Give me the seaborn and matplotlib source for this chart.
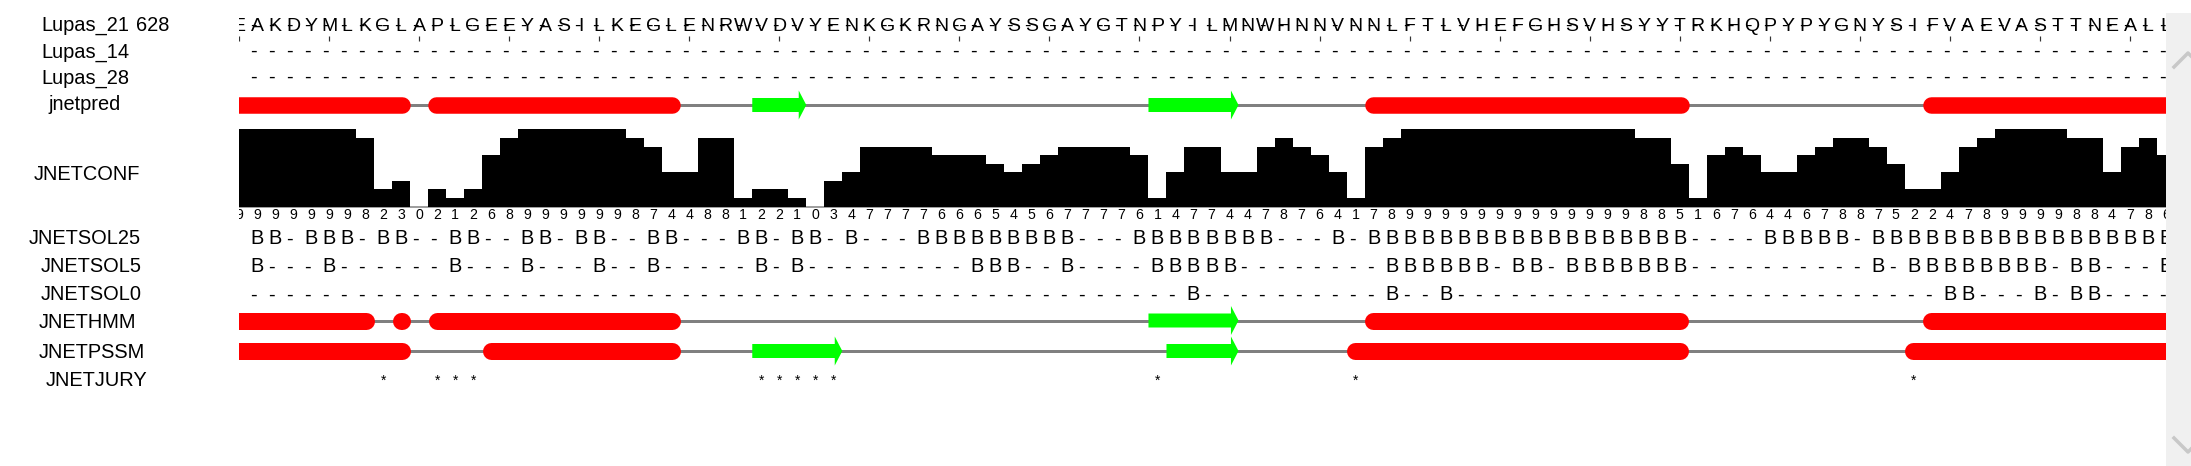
import itertools

import matplotlib
matplotlib.use("Agg")
import matplotlib.pyplot as plt
from matplotlib.lines import Line2D
from matplotlib.patches import Rectangle
import pandas as pd
import seaborn as sns

# ---- values ----
sequence = "EAKDYMLKGLAPLGEEYASILKEGLENRWVDVYENKGKRNGAYSSGAYGTNPYILMNWHNNVNNLFTLVHEFGHSVHSYYTRKHQPYPYGNYSIFVAEVASTTNEALL"
start_residue = "628"

jnetconf = [9, 9, 9, 9, 9, 9, 9, 8, 2, 3,
            0, 2, 1, 2, 6, 8, 9, 9, 9, 9,
            9, 9, 8, 7, 4, 4, 8, 8, 1, 2,
            2, 1, 0, 3, 4, 7, 7, 7, 7, 6,
            6, 6, 5, 4, 5, 6, 7, 7, 7, 7,
            6, 1, 4, 7, 7, 4, 4, 7, 8, 7,
            6, 4, 1, 7, 8, 9, 9, 9, 9, 9,
            9, 9, 9, 9, 9, 9, 9, 9, 8, 8,
            5, 1, 6, 7, 6, 4, 4, 6, 7, 8,
            8, 7, 5, 2, 2, 4, 7, 8, 9, 9,
            9, 9, 8, 8, 4, 7, 8, 6]

jnetsol25 = ("-BB-BBB-BB" "--BB--BB-B" "B--BB---BB" "-BB-B---BB" "BBBBBBB---"
             "BBBBBBBB--" "-B-BBBBBBB" "BBBBBBBBBB" "B----BBBBB" "-BBBBBBBBB" "BBBBBBBB")
jnetsol5 = ("-B---B----" "--B---B---" "B--B-----B" "-B--------" "-BBB--B---"
            "-BBBBB----" "----BBBBBB" "-BB-BBBBBB" "B---------" "-B-BBBBBBB" "B-BB---B")
jnetsol0 = ("----------" "----------" "----------" "----------" "----------"
            "---B------" "----B--B--" "----------" "----------" "-----BB---" "B-BB----")

# H = helix, E = strand, - = coil
jnetpred = ("HHHHHHHHHH" "-HHHHHHHHH" "HHHHH----E" "EE--------" "----------"
            "-EEEEE----" "---HHHHHHH" "HHHHHHHHHH" "H---------" "----HHHHHH" "HHHHHHHH")
jnethmm = ("HHHHHHHH-H" "-HHHHHHHHH" "HHHHH-----" "----------" "----------"
           "-EEEEE----" "---HHHHHHH" "HHHHHHHHHH" "H---------" "----HHHHHH" "HHHHHHHH")
jnetpssm = ("HHHHHHHHHH" "----HHHHHH" "HHHHH----E" "EEEE------" "----------"
            "--EEEE----" "--HHHHHHHH" "HHHHHHHHHH" "H---------" "---HHHHHHH" "HHHHHHHH")

jury_cols = [8, 11, 12, 13, 29, 30, 31, 32, 33, 51, 62, 93]

row_labels = ["Lupas_21", "Lupas_14", "Lupas_28", "jnetpred", "JNETCONF",
              "JNETSOL25", "JNETSOL5", "JNETSOL0", "JNETHMM", "JNETPSSM", "JNETJURY"]

# ---- layout, in pixels of the 2191x466 panel ----
W, H = 2191, 466
X_FIRST, X_LAST = 239, 2166          # centres of first / last visible column
label_pos = {"Lupas_21": (41, 31), "Lupas_14": (41, 57.5), "Lupas_28": (41, 84),
             "jnetpred": (48, 110.5), "JNETCONF": (34, 180), "JNETSOL25": (29, 244.5),
             "JNETSOL5": (41, 272.5), "JNETSOL0": (41, 300.5), "JNETHMM": (39, 327.5),
             "JNETPSSM": (39, 358), "JNETJURY": (46, 385.5)}
row_y = dict(seq=31, tick_top=35.5, tick_bot=41, lupas14=56.5, lupas28=83,
             pred=105, conf_top=129.5, conf_base=206.6, digits=218.7,
             sol25=244.5, sol5=272.5, sol0=300.5, hmm=320.5, pssm=351, jury=385)

RED, GREEN, GREY = "#ff0000", "#00ff00", "#808080"
PX = 0.72  # points per pixel at dpi 100

plt.rcParams['font.family'] = ['Liberation Sans', 'DejaVu Sans']

n = len(sequence)
cols = list(range(n))
px_per_col = (X_LAST - X_FIRST) / (n - 1)

fig = plt.figure(figsize=(W / 100, H / 100), dpi=100)
fig.patch.set_facecolor("white")

ax = fig.add_axes([X_FIRST / W, 0, (X_LAST - X_FIRST) / W, 1])
ax.set_xlim(0, n - 1)
ax.set_ylim(H, 0)
ax.axis("off")


def char_row(text, y, size=14.4, dash_shift=-0.2):
    for i, ch in enumerate(text):
        x = i + (dash_shift if ch == "-" else 0)
        ax.text(x, y, ch, ha="center", va="baseline", fontsize=size, clip_on=True)


def ss_row(ss, y, bar_px=16.5):
    ax.plot([-1, n], [y, y], color=GREY, lw=3 * PX, solid_capstyle="butt", zorder=1)
    r = bar_px / 2 / px_per_col
    head = 0.42
    i = 0
    for kind, grp in itertools.groupby(ss):
        k = len(list(grp))
        s, e = i - 0.5, i + k - 0.5
        if kind == "H":
            ax.plot([s + r, e - r], [y, y], color=RED, lw=bar_px * PX,
                    solid_capstyle="round", zorder=2)
        elif kind == "E":
            xb = e - head
            ax.fill([s, xb, xb, e, xb, xb, s],
                    [y - 7, y - 7, y - 14.5, y, y + 14.5, y + 7, y + 7],
                    color=GREEN, lw=0, zorder=2)
        i += k


# sequence row with the overlaid Lupas dashes and ruler ticks
char_row(sequence, row_y["seq"], size=14)
char_row("-" * n, row_y["seq"], size=14)
ax.vlines(cols[::5], row_y["tick_top"], row_y["tick_bot"], color="#333333", lw=1.2 * PX)

char_row("-" * n, row_y["lupas14"])
char_row("-" * n, row_y["lupas28"])

ss_row(jnetpred, row_y["pred"])

# confidence histogram
cax = fig.add_axes([X_FIRST / W, 1 - row_y["conf_base"] / H, (X_LAST - X_FIRST) / W,
                    (row_y["conf_base"] - row_y["conf_top"]) / H])
conf_df = pd.DataFrame({"col": cols, "conf": jnetconf})
sns.barplot(data=conf_df, x="col", y="conf", native_scale=True, width=1, color="black",
            saturation=1, errorbar=None, linewidth=0, antialiased=False, ax=cax)
cax.set_xlim(0, n - 1)
cax.set_ylim(0, 9)
cax.axis("off")
ax.plot([0, n - 1], [row_y["conf_base"] + 0.8] * 2, color=GREY, lw=1.5 * PX, zorder=3)

for i, v in enumerate(jnetconf):
    ax.text(i, row_y["digits"], str(v), ha="center", va="baseline", fontsize=10.2, clip_on=True)

char_row(jnetsol25, row_y["sol25"])
char_row(jnetsol5, row_y["sol5"])
char_row(jnetsol0, row_y["sol0"])

ss_row(jnethmm, row_y["hmm"], bar_px=17)
ss_row(jnetpssm, row_y["pssm"], bar_px=17)

for c in jury_cols:
    ax.text(c, row_y["jury"], "*", ha="center", va="baseline", fontsize=10)

# annotation labels
for name in row_labels:
    lx, ly = label_pos[name]
    fig.text(lx / W, 1 - ly / H, name, ha="left", va="baseline", fontsize=14.4)
fig.text(136 / W, 1 - label_pos["Lupas_21"][1] / H, start_residue,
         ha="left", va="baseline", fontsize=14.4)

# vertical scrollbar strip at the right edge
fig.patches.append(Rectangle((X_LAST / W, 0), (W - X_LAST) / W, 1 - 13 / H,
                             transform=fig.transFigure, facecolor="#f0f0f0",
                             edgecolor="none", zorder=0))
for pts in ([(2174, 67), (2188, 53), (2202, 67)], [(2174, 438), (2188, 452), (2202, 438)]):
    fig.lines.append(Line2D([p[0] / W for p in pts], [1 - p[1] / H for p in pts],
                            transform=fig.transFigure, color="#c8c8c8", lw=3.5 * PX))

fig.savefig("out.png", dpi=100, facecolor="white")
